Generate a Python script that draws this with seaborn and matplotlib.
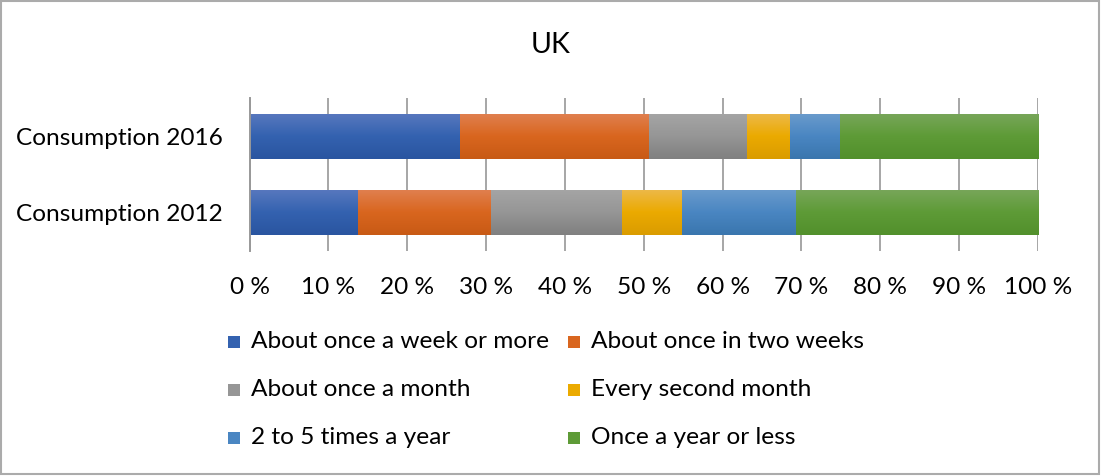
import numpy as np
import pandas as pd
import matplotlib
matplotlib.use("Agg")
import matplotlib.pyplot as plt
from matplotlib.patches import Rectangle
from matplotlib.colors import LinearSegmentedColormap
import seaborn as sns

# ---- data ----
categories = ["Consumption 2016", "Consumption 2012"]
series_names = ["About once a week or more", "About once in two weeks",
                "About once a month", "Every second month",
                "2 to 5 times a year", "Once a year or less"]
week_or_more = [26.6, 13.6]
two_weeks = [23.9, 16.9]
month = [12.5, 16.6]
second_month = [5.4, 7.6]
two_to_five = [6.4, 14.5]
year_or_less = [25.2, 30.8]
tick_values = [0, 10, 20, 30, 40, 50, 60, 70, 80, 90, 100]
tick_labels = [f"{v} %" for v in tick_values]
title = "UK"

series = [week_or_more, two_weeks, month, second_month, two_to_five, year_or_less]
mid_colors = ["#3462B0", "#D9661F", "#969696", "#EBAA00", "#4A86C2", "#5E9B37"]
top_colors = ["#5878BE", "#E08050", "#A5A5A5", "#EDB94A", "#6A9BCC", "#78A65A"]
bot_colors = ["#2A55A0", "#C85A15", "#808080", "#DA9C00", "#3A76AE", "#52902C"]

FONT = ["Lato", "DejaVu Sans"]
sns.set_theme(style="white")
plt.rcParams["font.family"] = FONT
FS = 17.6

W, H = 1101, 476
fig = plt.figure(figsize=(W / 100, H / 100), dpi=100)
ax = fig.add_axes([249.5 / W, 1 - 251 / H, (1038 - 249.5) / W, (251 - 98) / H])

# cumulative long-form table for stacked bars (drawn back to front)
cum = np.cumsum(np.array(series), axis=0)
rows = []
for i, name in enumerate(series_names):
    for j, cat in enumerate(categories):
        rows.append({"category": cat, "series": name, "cum": cum[i, j], "idx": i})
df = pd.DataFrame(rows)

grid_col = "#A6A6A6"
for v in tick_values:
    ax.axvline(v, color=grid_col, lw=1.4, zorder=0)

order_draw = list(range(len(series_names)))[::-1]
z = 2
for i in order_draw:
    sub = df[df["idx"] == i]
    n_before = len(ax.patches)
    sns.barplot(data=sub, x="cum", y="category", order=categories, orient="h",
                color=mid_colors[i], width=0.59, ax=ax, saturation=1,
                edgecolor="none", linewidth=0, errorbar=None, zorder=z)
    cmap = LinearSegmentedColormap.from_list(f"g{i}", [top_colors[i], mid_colors[i], bot_colors[i]])
    grad = np.linspace(0, 1, 64).reshape(-1, 1)
    for p in ax.patches[n_before:]:
        x0, y0 = p.get_x(), p.get_y()
        w, h = p.get_width(), p.get_height()
        p.set_zorder(z)
        im = ax.imshow(grad, cmap=cmap, aspect="auto", interpolation="bilinear",
                       extent=[x0, x0 + w, y0 + h, y0], zorder=z + 0.5)
        im.set_clip_path(p)
    z += 1

ax.set_xlim(0, 100)
ax.set_ylim(1.5, -0.5)
ax.set_xticks(tick_values)
ax.set_xticklabels(tick_labels)
ax.set_xlabel("")
ax.set_ylabel("")
ax.tick_params(axis="x", length=0, pad=18.5, labelsize=FS, labelcolor="#000000")
ax.tick_params(axis="y", length=0, pad=19.5, labelsize=FS, labelcolor="#000000")
for s in ["top", "right", "bottom"]:
    ax.spines[s].set_visible(False)
ax.spines["left"].set_color("#999999")
ax.spines["left"].set_linewidth(1.4)
ax.spines["left"].set_zorder(20)
ax.set_facecolor("white")
ax.grid(False)

# title
fig.text(0.5, 1 - 45 / H, title, ha="center", va="center", fontsize=20.5, color="#000000")

# legend (row-major, two columns)
col_x = [228, 568]
row_y = [342, 390, 438]
sq = 12
for k, name in enumerate(series_names):
    c, r = k % 2, k // 2
    x, y = col_x[c], row_y[r]
    fig.patches.append(Rectangle((x / W, 1 - (y + sq / 2) / H), sq / W, sq / H,
                                 transform=fig.transFigure, facecolor=mid_colors[k],
                                 edgecolor="none"))
    fig.text((x + sq + 11) / W, 1 - y / H, name, ha="left", va="center",
             fontsize=FS, color="#000000")

# outer border
fig.patches.append(Rectangle((1 / W, 2 / H), (W - 3) / W, (H - 3) / H,
                             transform=fig.transFigure, facecolor="none",
                             edgecolor="#ABABAB", linewidth=1.5))

fig.savefig("out.png", dpi=100, facecolor="white")
